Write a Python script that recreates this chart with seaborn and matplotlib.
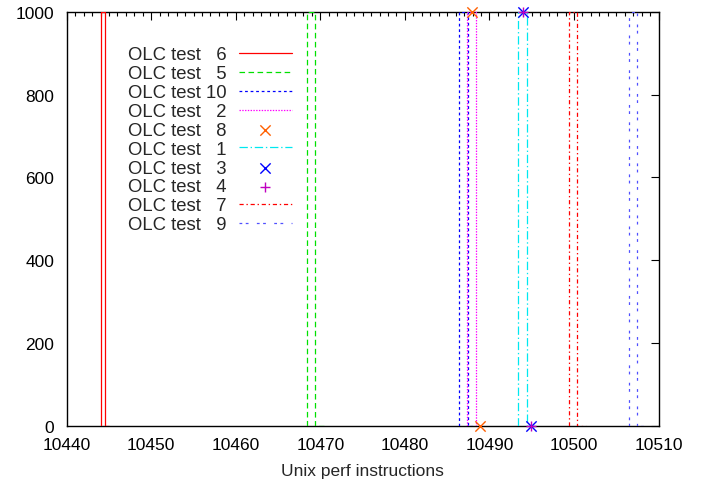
import matplotlib
matplotlib.use("Agg")
import matplotlib.pyplot as plt
import seaborn as sns
from matplotlib.ticker import MultipleLocator

# Each run is two histogram points: (x_top, 1000) and (x_bottom, 0)
legend_order = [6, 5, 10, 2, 8, 1, 3, 4, 7, 9]
line_tests = [6, 5, 10, 2, 1, 7, 9]
line_x_top = [10444.25, 10468.9, 10486.95, 10487.9, 10493.93, 10499.9, 10506.95]
line_x_bottom = [10444.75, 10469.9, 10487.95, 10488.9, 10494.95, 10500.9, 10507.95]
point_tests = [8, 3, 4]
point_x_top = [10487.9, 10493.93, 10493.93]
point_x_bottom = [10488.9, 10494.95, 10494.95]
counts = [1000, 0]

x_ticks = [10440, 10450, 10460, 10470, 10480, 10490, 10500, 10510]
y_ticks = [0, 200, 400, 600, 800, 1000]

colors = {6: "#ff0000", 5: "#00e000", 10: "#0000ff", 2: "#ff00ff", 8: "#ff6000",
          1: "#00e8f0", 3: "#0000ff", 4: "#c000c0", 7: "#ff0000", 9: "#5050ff"}
styles = {6: "-", 5: (0, (4, 2.5)), 10: (0, (2, 2)), 2: (0, (1, 1)),
          1: (0, (6, 2, 1, 2)), 7: (0, (3, 2, 1, 2)), 9: (0, (2, 2.5, 2, 6))}
markers = {8: "x", 3: "x", 4: "+"}


def histeps(x1, x2, y1, y2):
    # gnuplot-like histeps: steps centred on the points
    h = (x2 - x1) / 2
    xs = [x1 - h, x1 - h, x1 + h, x1 + h, x2 + h]
    ys = [0, y1, y1, y2, y2]
    return xs, ys


def label_for(n):
    return "OLC test " + ("\u2007" + str(n) if n < 10 else str(n))


def main():
    sns.set_style("white")
    plt.rcParams["font.family"] = ["Liberation Sans", "DejaVu Sans"]
    plt.rcParams["lines.scale_dashes"] = False

    fig = plt.figure(figsize=(7.08, 4.85), dpi=100)
    ax = fig.add_axes([0.0942, 0.1202, 0.836, 0.8536])

    for n in legend_order:
        if n in line_tests:
            i = line_tests.index(n)
            xs, ys = histeps(line_x_top[i], line_x_bottom[i], counts[0], counts[1])
            sns.lineplot(x=xs, y=ys, sort=False, estimator=None, ax=ax,
                         color=colors[n], linestyle=styles[n], linewidth=0.9,
                         label=label_for(n), zorder=3)
        else:
            i = point_tests.index(n)
            sns.scatterplot(x=[point_x_top[i], point_x_bottom[i]], y=counts, ax=ax,
                            marker=markers[n], s=55, color=colors[n], linewidth=1.0,
                            label=label_for(n), clip_on=False, zorder=4)

    ax.set_xlim(10440, 10510)
    ax.set_ylim(0, 1000)
    ax.set_xticks(x_ticks)
    ax.set_yticks(y_ticks)
    ax.xaxis.set_minor_locator(MultipleLocator(1))
    ax.tick_params(which="both", direction="in", top=True, right=True,
                   width=0.8, colors="black", labelsize=12.5)
    ax.tick_params(which="major", length=6)
    ax.tick_params(which="minor", length=3)
    ax.tick_params(axis="x", pad=8)
    ax.tick_params(axis="y", pad=9)
    for s in ax.spines.values():
        s.set_linewidth(1.0)
        s.set_color("black")
        s.set_zorder(2)

    ax.set_xlabel("Unix perf instructions", fontsize=12.5, labelpad=8)
    ax.set_ylabel("")

    handles, labels = ax.get_legend_handles_labels()
    ax.legend(handles, labels, loc="upper left", frameon=False, markerfirst=False,
              bbox_to_anchor=(128 / 708, 1 - 47.5 / 485), bbox_transform=fig.transFigure,
              borderpad=0, borderaxespad=0, fontsize=13.3, handlelength=2.87,
              handletextpad=0.65, labelspacing=0.1)

    fig.savefig("out.png", dpi=100)
    plt.close(fig)


if __name__ == "__main__":
    main()
